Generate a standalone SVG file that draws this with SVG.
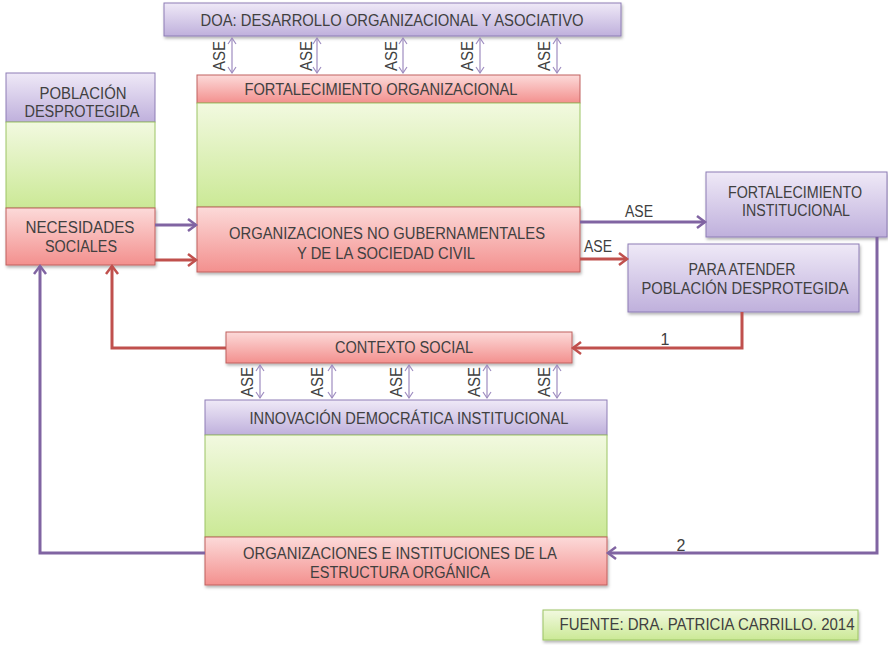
<svg xmlns="http://www.w3.org/2000/svg" width="888" height="645" viewBox="0 0 888 645">
<defs>
<linearGradient id="gRed" x1="0" y1="0" x2="0" y2="1"><stop offset="0" stop-color="#fcdad9"/><stop offset="1" stop-color="#f3908e"/></linearGradient>
<linearGradient id="gPur" x1="0" y1="0" x2="0" y2="1"><stop offset="0" stop-color="#efe9f7"/><stop offset="1" stop-color="#bfb0dc"/></linearGradient>
<linearGradient id="gGrn" x1="0" y1="0" x2="0" y2="1"><stop offset="0" stop-color="#f2f9e0"/><stop offset="1" stop-color="#cbe996"/></linearGradient>
<filter id="sh" x="-5%" y="-10%" width="110%" height="130%"><feDropShadow dx="1" dy="2" stdDeviation="1.5" flood-color="#000" flood-opacity="0.3"/></filter>
<marker id="aRed" markerUnits="userSpaceOnUse" markerWidth="14" markerHeight="14" refX="10" refY="7" orient="auto"><path d="M2,1 L10,7 L2,13" fill="none" stroke="#c0504d" stroke-width="2.5"/></marker>
<marker id="aPur" markerUnits="userSpaceOnUse" markerWidth="14" markerHeight="14" refX="10" refY="7" orient="auto"><path d="M2,1 L10,7 L2,13" fill="none" stroke="#8064a2" stroke-width="2.5"/></marker>
<marker id="aSm" markerUnits="userSpaceOnUse" markerWidth="10" markerHeight="10" refX="8" refY="5" orient="auto-start-reverse"><path d="M2,1 L8,5 L2,9" fill="none" stroke="#9e8cc0" stroke-width="1.2"/></marker>
</defs>
<style>
.red{fill:url(#gRed);stroke:#c0605e;stroke-width:1}
.pur{fill:url(#gPur);stroke:#8d7db5;stroke-width:1}
.grn{fill:url(#gGrn);stroke:#9cc464;stroke-width:1}
.t{font-family:"Liberation Sans",Arial,sans-serif;font-size:16px;fill:#404040;text-anchor:middle}
.cr{fill:none;stroke:#c0504d;stroke-width:3}
.cp{fill:none;stroke:#8064a2;stroke-width:3}
.ase{stroke:#9e8cc0;stroke-width:1.2;marker-start:url(#aSm);marker-end:url(#aSm)}
</style>

<g id="doa"><rect class="pur" x="164" y="3" width="457" height="33" filter="url(#sh)"/><text class="t" x="392" y="26" textLength="383" lengthAdjust="spacingAndGlyphs">DOA: DESARROLLO ORGANIZACIONAL  Y ASOCIATIVO</text></g>

<g id="poblacion"><rect class="pur" x="6" y="73" width="149" height="49"/><text class="t" x="83" y="99" textLength="87" lengthAdjust="spacingAndGlyphs">POBLACIÓN</text><text class="t" x="82" y="117" textLength="115" lengthAdjust="spacingAndGlyphs">DESPROTEGIDA</text></g>
<g id="poblacion-panel"><rect class="grn" x="6" y="122" width="149" height="86"/></g>
<g id="necesidades"><rect class="red" x="6" y="208" width="149" height="57" filter="url(#sh)"/><text class="t" x="80" y="233" textLength="109" lengthAdjust="spacingAndGlyphs">NECESIDADES</text><text class="t" x="81" y="252" textLength="72" lengthAdjust="spacingAndGlyphs">SOCIALES</text></g>

<g id="fortalecimiento-organizacional"><rect class="red" x="197" y="75" width="383" height="28"/><text class="t" x="381" y="95" textLength="273" lengthAdjust="spacingAndGlyphs">FORTALECIMIENTO  ORGANIZACIONAL</text></g>
<g id="ong-panel"><rect class="grn" x="197" y="103" width="383" height="104"/></g>
<g id="ong"><rect class="red" x="197" y="207" width="383" height="65" filter="url(#sh)"/><text class="t" x="387" y="239" textLength="316" lengthAdjust="spacingAndGlyphs">ORGANIZACIONES  NO  GUBERNAMENTALES</text><text class="t" x="386" y="259" textLength="178" lengthAdjust="spacingAndGlyphs">Y DE LA SOCIEDAD CIVIL</text></g>

<g id="fortalecimiento-institucional"><rect class="pur" x="706" y="172" width="181" height="65" filter="url(#sh)"/><text class="t" x="795" y="198" textLength="134" lengthAdjust="spacingAndGlyphs">FORTALECIMIENTO</text><text class="t" x="796" y="216" textLength="108" lengthAdjust="spacingAndGlyphs">INSTITUCIONAL</text></g>
<g id="para-atender"><rect class="pur" x="628" y="244" width="231" height="68" filter="url(#sh)"/><text class="t" x="742" y="275" textLength="107" lengthAdjust="spacingAndGlyphs">PARA ATENDER</text><text class="t" x="745" y="294" textLength="207" lengthAdjust="spacingAndGlyphs">POBLACIÓN DESPROTEGIDA</text></g>

<g id="contexto-social"><rect class="red" x="226" y="332" width="346" height="31" filter="url(#sh)"/><text class="t" x="404" y="353" textLength="138" lengthAdjust="spacingAndGlyphs">CONTEXTO  SOCIAL</text></g>

<g id="innovacion"><rect class="pur" x="205" y="400" width="402" height="35"/><text class="t" x="409" y="424" textLength="319" lengthAdjust="spacingAndGlyphs">INNOVACIÓN  DEMOCRÁTICA INSTITUCIONAL</text></g>
<g id="innovacion-panel"><rect class="grn" x="205" y="435" width="402" height="102"/></g>
<g id="organizaciones-instituciones"><rect class="red" x="205" y="537" width="402" height="48" filter="url(#sh)"/><text class="t" x="400" y="559" textLength="314" lengthAdjust="spacingAndGlyphs">ORGANIZACIONES  E INSTITUCIONES  DE LA</text><text class="t" x="400" y="578" textLength="180" lengthAdjust="spacingAndGlyphs">ESTRUCTURA ORGÁNICA</text></g>

<g id="fuente"><rect x="543" y="610" width="315" height="30" fill="url(#gGrn)" stroke="#9cc464" filter="url(#sh)"/><text class="t" x="707" y="630" textLength="295" lengthAdjust="spacingAndGlyphs">FUENTE:  DRA. PATRICIA CARRILLO. 2014</text></g>

<g id="connectors">
<line class="cp" x1="155" y1="225" x2="196" y2="225" marker-end="url(#aPur)"/>
<line class="cr" x1="155" y1="260" x2="196" y2="260" marker-end="url(#aRed)"/>
<line class="cp" x1="580" y1="222" x2="705" y2="222" marker-end="url(#aPur)"/>
<text class="t" x="639" y="217" textLength="28" lengthAdjust="spacingAndGlyphs">ASE</text>
<line class="cr" x1="580" y1="259" x2="627" y2="259" marker-end="url(#aRed)"/>
<text class="t" x="598" y="252" textLength="28" lengthAdjust="spacingAndGlyphs">ASE</text>
<polyline class="cr" points="742,312 742,348 573,348" marker-end="url(#aRed)"/>
<text class="t" x="665" y="345">1</text>
<polyline class="cr" points="226,348 112,348 112,266" marker-end="url(#aRed)"/>
<polyline class="cp" points="877,237 877,553 608,553" marker-end="url(#aPur)"/>
<text class="t" x="681" y="551">2</text>
<polyline class="cp" points="205,553 40,553 40,266" marker-end="url(#aPur)"/>

<line class="ase" x1="232" y1="38" x2="232" y2="73"/>
<line class="ase" x1="317" y1="38" x2="317" y2="73"/>
<line class="ase" x1="403" y1="38" x2="403" y2="73"/>
<line class="ase" x1="480" y1="38" x2="480" y2="73"/>
<line class="ase" x1="557" y1="38" x2="557" y2="73"/>
<text class="t" transform="translate(225,56) rotate(-90)" textLength="30" lengthAdjust="spacingAndGlyphs">ASE</text>
<text class="t" transform="translate(312,56) rotate(-90)" textLength="30" lengthAdjust="spacingAndGlyphs">ASE</text>
<text class="t" transform="translate(397,56) rotate(-90)" textLength="30" lengthAdjust="spacingAndGlyphs">ASE</text>
<text class="t" transform="translate(473,56) rotate(-90)" textLength="30" lengthAdjust="spacingAndGlyphs">ASE</text>
<text class="t" transform="translate(550,56) rotate(-90)" textLength="30" lengthAdjust="spacingAndGlyphs">ASE</text>

<line class="ase" x1="260" y1="365" x2="260" y2="398"/>
<line class="ase" x1="332" y1="365" x2="332" y2="398"/>
<line class="ase" x1="409" y1="365" x2="409" y2="398"/>
<line class="ase" x1="487" y1="365" x2="487" y2="398"/>
<line class="ase" x1="557" y1="365" x2="557" y2="398"/>
<text class="t" transform="translate(253,382) rotate(-90)" textLength="30" lengthAdjust="spacingAndGlyphs">ASE</text>
<text class="t" transform="translate(323,382) rotate(-90)" textLength="30" lengthAdjust="spacingAndGlyphs">ASE</text>
<text class="t" transform="translate(402,382) rotate(-90)" textLength="30" lengthAdjust="spacingAndGlyphs">ASE</text>
<text class="t" transform="translate(480,382) rotate(-90)" textLength="30" lengthAdjust="spacingAndGlyphs">ASE</text>
<text class="t" transform="translate(550,382) rotate(-90)" textLength="30" lengthAdjust="spacingAndGlyphs">ASE</text>
</g>
</svg>
